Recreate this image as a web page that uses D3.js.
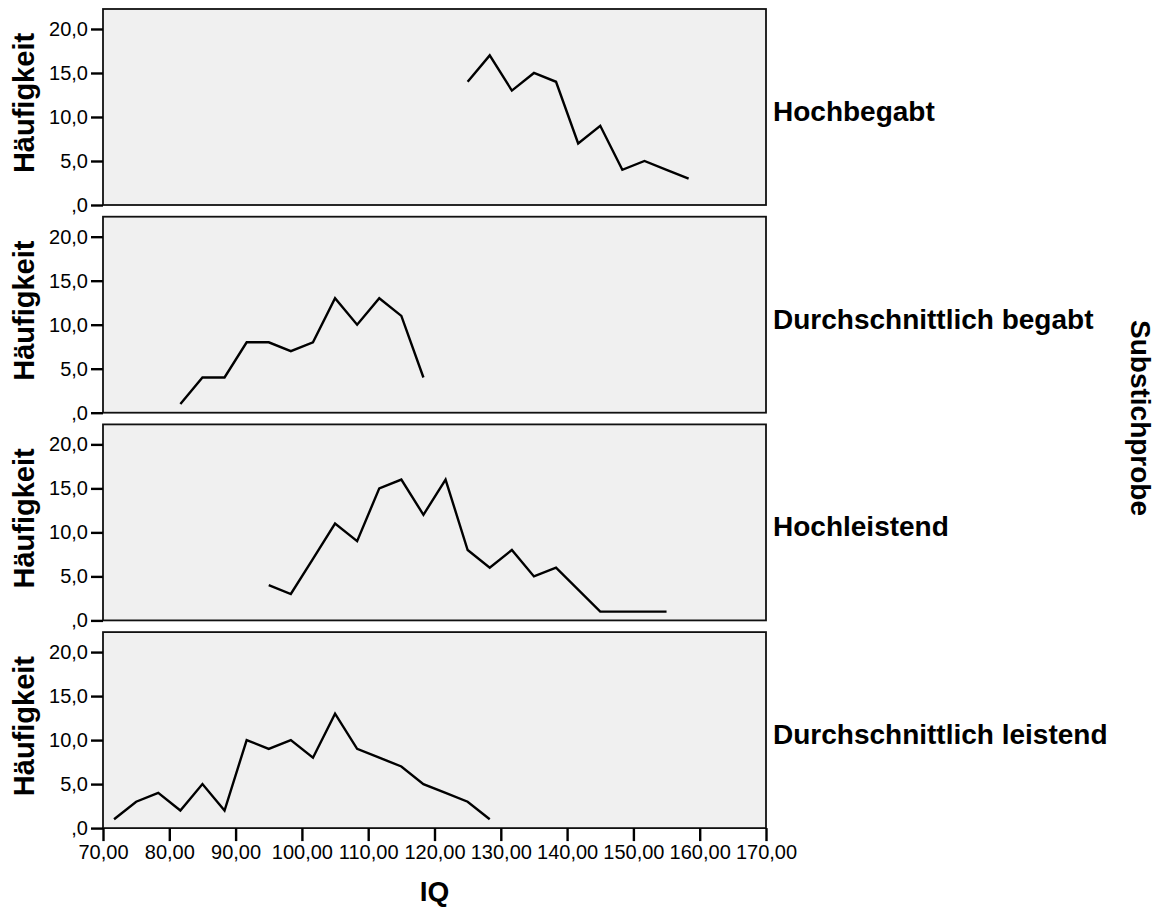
<!DOCTYPE html>
<html>
<head>
<meta charset="utf-8">
<script src="https://cdn.jsdelivr.net/npm/d3@7"></script>
<style>
  body { margin: 0; background: #fff; }
  text { font-family: "Liberation Sans", Arial, sans-serif; fill: #000; }
</style>
</head>
<body>
<div id="chart"></div>
<script>
// panel labels (Substichprobe)
const groups = ['Hochbegabt', 'Durchschnittlich begabt', 'Hochleistend', 'Durchschnittlich leistend'];

// IQ bin centres and frequencies per group
const iqHochbegabt = [125, 128.33, 131.67, 135, 138.33, 141.67, 145, 148.33, 151.67, 155, 158.33];
const nHochbegabt = [14, 17, 13, 15, 14, 7, 9, 4, 5, 4, 3];

const iqDurchBegabt = [81.67, 85, 88.33, 91.67, 95, 98.33, 101.67, 105, 108.33, 111.67, 115, 118.33];
const nDurchBegabt = [1, 4, 4, 8, 8, 7, 8, 13, 10, 13, 11, 4];

const iqHochleistend = [95, 98.33, 101.67, 105, 108.33, 111.67, 115, 118.33, 121.67, 125, 128.33, 131.67, 135, 138.33, 145, 148.33, 151.67, 155];
const nHochleistend = [4, 3, 7, 11, 9, 15, 16, 12, 16, 8, 6, 8, 5, 6, 1, 1, 1, 1];

const iqDurchLeistend = [71.67, 75, 78.33, 81.67, 85, 88.33, 91.67, 95, 98.33, 101.67, 105, 108.33, 111.67, 115, 118.33, 121.67, 125, 128.33];
const nDurchLeistend = [1, 3, 4, 2, 5, 2, 10, 9, 10, 8, 13, 9, 8, 7, 5, 4, 3, 1];

const xTicks = [70, 80, 90, 100, 110, 120, 130, 140, 150, 160, 170];
const yTicks = [0, 5, 10, 15, 20];

const series = [
  { iq: iqHochbegabt, n: nHochbegabt },
  { iq: iqDurchBegabt, n: nDurchBegabt },
  { iq: iqHochleistend, n: nHochleistend },
  { iq: iqDurchLeistend, n: nDurchLeistend }
];

const W = 1160, H = 912;
const left = 103, right = 766;
const top0 = 9, panelH = 196, step = 207.7;

const svg = d3.select('#chart').append('svg').attr('width', W).attr('height', H);

const x = d3.scaleLinear().domain([70, 170]).range([left, right]);
const fmt = d => d === 0 ? ',0' : d3.format('.1f')(d).replace('.', ',');

series.forEach((s, i) => {
  const top = top0 + i * step;
  const y = d3.scaleLinear().domain([0, 22.27]).range([top + panelH, top]);
  const g = svg.append('g');

  g.append('rect')
    .attr('x', left).attr('y', top)
    .attr('width', right - left).attr('height', panelH)
    .attr('fill', '#f0f0f0')
    .attr('stroke', '#111').attr('stroke-width', 1.8);

  const yAxis = g.append('g')
    .attr('transform', `translate(${left},0)`)
    .call(d3.axisLeft(y).tickValues(yTicks).tickFormat(fmt).tickSize(12).tickPadding(3));
  yAxis.select('.domain').remove();
  yAxis.selectAll('line').attr('stroke', '#000').attr('stroke-width', 2.4);
  yAxis.selectAll('text').attr('font-size', 20).attr('font-family', '"Liberation Sans", Arial, sans-serif').attr('fill', '#000');

  const line = d3.line().x(d => x(d[0])).y(d => y(d[1]));
  g.append('path')
    .datum(d3.zip(s.iq, s.n))
    .attr('d', line)
    .attr('fill', 'none')
    .attr('stroke', '#000')
    .attr('stroke-width', 2.4)
    .attr('stroke-linejoin', 'miter');

  g.append('text')
    .attr('transform', `translate(34,${top + panelH / 2 - 4}) rotate(-90)`)
    .attr('text-anchor', 'middle')
    .attr('font-size', 29).attr('font-weight', 'bold')
    .text('Häufigkeit');

  g.append('text')
    .attr('x', 773).attr('y', top + panelH / 2 + 14)
    .attr('font-size', 28).attr('font-weight', 'bold')
    .text(groups[i]);
});

const bottom = top0 + 3 * step + panelH;
const xAxis = svg.append('g')
  .attr('transform', `translate(0,${bottom})`)
  .call(d3.axisBottom(x).tickValues(xTicks).tickFormat(d => d3.format('.2f')(d).replace('.', ',')).tickSize(13).tickPadding(4));
xAxis.select('.domain').remove();
xAxis.selectAll('line').attr('stroke', '#000').attr('stroke-width', 2.4);
xAxis.selectAll('text').attr('font-size', 20).attr('font-family', '"Liberation Sans", Arial, sans-serif').attr('fill', '#000');

svg.append('text')
  .attr('x', (left + right) / 2).attr('y', 901)
  .attr('text-anchor', 'middle')
  .attr('font-size', 28).attr('font-weight', 'bold')
  .text('IQ');

svg.append('text')
  .attr('transform', `translate(1131,418) rotate(90)`)
  .attr('text-anchor', 'middle')
  .attr('font-size', 28).attr('font-weight', 'bold')
  .text('Substichprobe');
</script>
</body>
</html>
